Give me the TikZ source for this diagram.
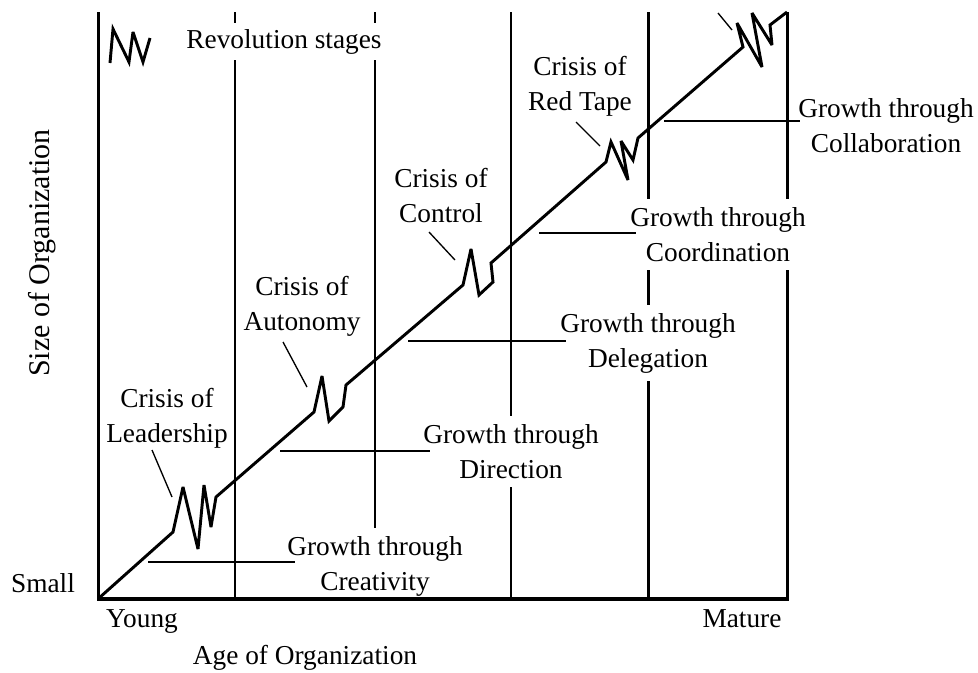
\documentclass[tikz,border=0pt]{standalone}
\usepackage{fontspec}
\setmainfont{Liberation Serif}
\begin{document}
\begin{tikzpicture}[x=0.75pt,y=-0.75pt,
  txt/.style={font=\fontsize{20.5}{26.3}\selectfont, align=center, inner xsep=1.5pt, inner ysep=6pt},
  boxed/.style={txt, fill=white, anchor=north},
  plain/.style={txt, anchor=base, inner sep=0pt},
  axisline/.style={line width=2.25pt},
  thickv/.style={line width=2.1pt},
  midv/.style={line width=1.7pt},
  thinv/.style={line width=1.1pt},
  growline/.style={line width=1.4pt},
  leader/.style={line width=1pt},
  diag/.style={line width=2.2pt, line join=miter, miter limit=4},
]
\useasboundingbox (0,0) rectangle (978,672);

% frame and stage separators
\draw[axisline] (98.5,12) -- (98.5,600);
\draw[axisline] (787,12) -- (787,600);
\draw[midv] (235,12) -- (235,598);
\draw[thickv] (375,12) -- (375,598);
\draw[thinv] (511,12) -- (511,598);
\draw[thickv] (648.5,12) -- (648.5,598);

% labels with white boxes
\node[boxed, inner ysep=4.5pt] (rev) at (284,23) {Revolution stages};
\node[boxed] (cLead) at (167,380) {Crisis of\\Leadership};
\node[boxed] (cAuto) at (302,268) {Crisis of\\Autonomy};
\node[boxed] (cCont) at (441,160) {Crisis of\\Control};
\node[boxed] (cRed) at (580,48) {Crisis of\\Red Tape};
\node[boxed] (gCrea) at (375,528) {Growth through\\Creativity};
\node[boxed] (gDir) at (511,416) {Growth through\\Direction};
\node[boxed] (gDel) at (648,305) {Growth through\\Delegation};
\node[boxed] (gCoord) at (718,199) {Growth through\\Coordination};
\node[boxed] (gColl) at (886,90) {Growth through\\Collaboration};

% bottom axis drawn over the boxes
\draw[line width=3pt, line cap=rect] (98.5,598.5) -- (787,598.5);

% axis labels
\node[plain] (small) at (43,592) {Small};
\node[plain] (young) at (142,627) {Young};
\node[plain] (mature) at (742,627) {Mature};
\node[plain] (age) at (305,664) {Age of Organization};
\node[plain, rotate=90, font=\fontsize{22.5}{27}\selectfont] (size) at (49.5,253) {Size of Organization};

% growth lines
\coordinate (l1a) at (148,562); \coordinate (l1b) at (295,562);
\coordinate (l2a) at (280,451); \coordinate (l2b) at (430,451);
\coordinate (l3a) at (408,341); \coordinate (l3b) at (566,341);
\coordinate (l4a) at (539,233); \coordinate (l4b) at (636,233);
\coordinate (l5a) at (664,121); \coordinate (l5b) at (800,121);
\draw[growline] (l1a) -- (l1b);
\draw[growline] (l2a) -- (l2b);
\draw[growline] (l3a) -- (l3b);
\draw[growline] (l4a) -- (l4b);
\draw[growline] (l5a) -- (l5b);

% leader lines
\coordinate (k1a) at (152,450); \coordinate (k1b) at (172,497);
\coordinate (k2a) at (283,342); \coordinate (k2b) at (307,387);
\coordinate (k3a) at (429,232); \coordinate (k3b) at (455,260);
\coordinate (k4a) at (576,122); \coordinate (k4b) at (600,146);
\coordinate (k5a) at (718,13);  \coordinate (k5b) at (732,30);
\draw[leader] (k1a) -- (k1b);
\draw[leader] (k2a) -- (k2b);
\draw[leader] (k3a) -- (k3b);
\draw[leader] (k4a) -- (k4b);
\draw[leader] (k5a) -- (k5b);

% growth curve with revolutions
\draw[diag] (98.5,598.5) -- (173,532) -- (183,487) -- (198,549) -- (204,485) -- (211,527) -- (216,497)
  -- (314,412) -- (322,376) -- (329,421) -- (343,407) -- (346,385)
  -- (463,285) -- (471,249) -- (479,295) -- (493,282) -- (491,263)
  -- (606,162) -- (611,142) -- (628,180) -- (621,141) -- (633,160) -- (638,138)
  -- (743,47) -- (737,23) -- (762,67) -- (752,13) -- (772,45) -- (770,25) -- (787,12);

% legend icon
\draw[diag] (110,63) -- (113,29) -- (129,62) -- (133,32) -- (143,62) -- (150,38);
\end{tikzpicture}
\end{document}
